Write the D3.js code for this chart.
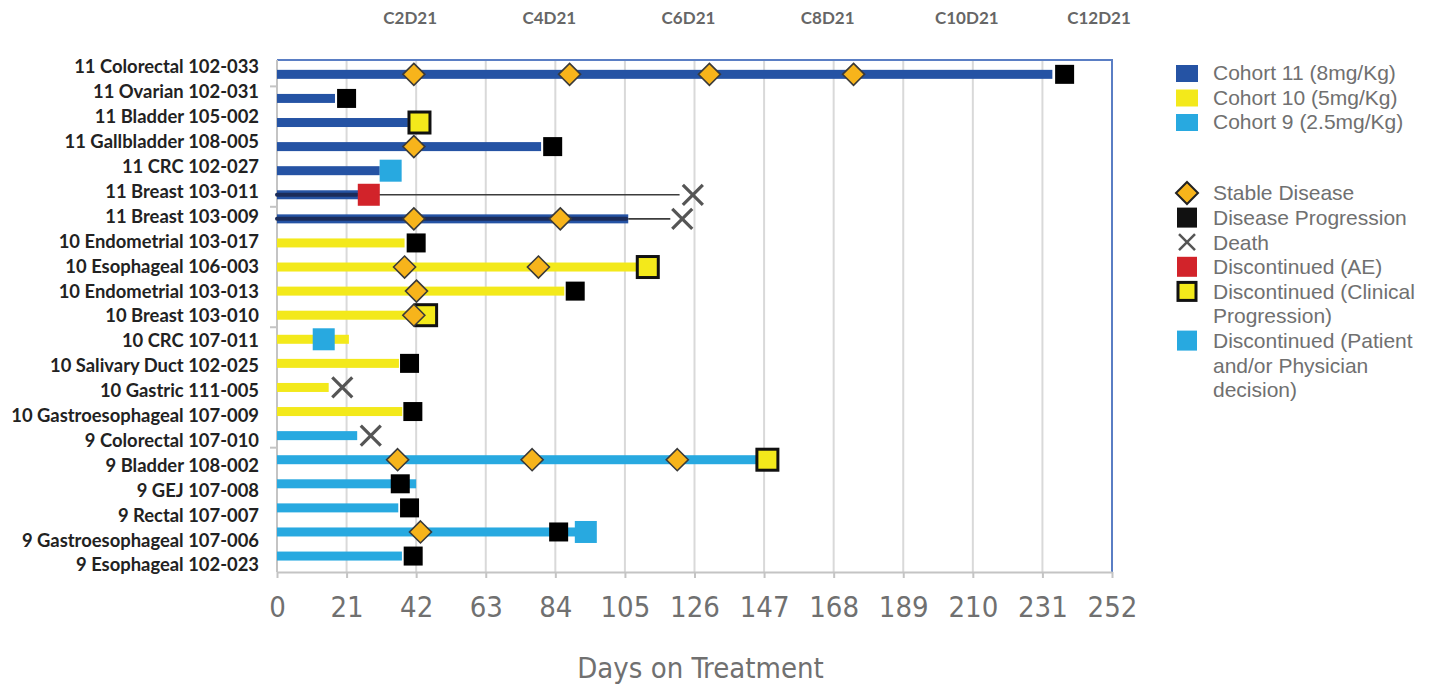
<!DOCTYPE html>
<html>
<head>
<meta charset="utf-8">
<script src="https://cdn.jsdelivr.net/npm/d3@7"></script>
<style>
  body { margin: 0; background: #fff; }
  svg { display: block; }
</style>
</head>
<body>
<svg id="chart" width="1438" height="688"></svg>
<script>
// Patients, top to bottom
const patients = [
  "11 Colorectal 102-033", "11 Ovarian 102-031", "11 Bladder 105-002", "11 Gallbladder 108-005",
  "11 CRC 102-027", "11 Breast 103-011", "11 Breast 103-009", "10 Endometrial 103-017",
  "10 Esophageal 106-003", "10 Endometrial 103-013", "10 Breast 103-010", "10 CRC 107-011",
  "10 Salivary Duct 102-025", "10 Gastric 111-005", "10 Gastroesophageal 107-009",
  "9 Colorectal 107-010", "9 Bladder 108-002", "9 GEJ 107-008", "9 Rectal 107-007",
  "9 Gastroesophageal 107-006", "9 Esophageal 102-023"
];
const cohorts = [11, 11, 11, 11, 11, 11, 11, 10, 10, 10, 10, 10, 10, 10, 10, 9, 9, 9, 9, 9, 9];

// Days on treatment (bar length)
const treatmentDays = [234, 17.5, 39.5, 79.7, 31, 24.7, 106, 38.5, 108.5, 86.7, 42, 21.7,
  36.8, 15.6, 37.8, 24.2, 144.8, 42, 36.6, 90.5, 37.7];
// Follow-up after treatment stop (thin line up to death)
const followUpDays = [null, null, null, null, null, 121.5, 118.7, null, null, null, null, null,
  null, null, null, null, null, null, null, null, null];

// Events (day of assessment)
const stableDisease = [[41.3, 88.3, 130.5, 174], [], [], [41.3], [], [], [41.3, 85.5], [],
  [38.5, 78.9], [42.1], [41.3], [], [], [], [], [], [36.4, 77, 120.8], [], [], [43.3], []];
const progression = [237.7, 21, null, 83.2, null, null, null, 42, null, 90, null, null,
  40, null, 41, null, null, 37.2, 40, 85, 41.1];
const death = [null, null, null, null, null, 125.5, 122.3, null, null, null, null, null,
  null, 19.7, null, 28.3, null, null, null, null, null];
const discAE = [null, null, null, null, null, 27.7, null, null, null, null, null, null,
  null, null, null, null, null, null, null, null, null];
const discClinical = [null, null, 43, null, null, null, null, null, 111.9, null, 45, null,
  null, null, null, null, 148, null, null, null, null];
const discPatient = [null, null, null, null, 34.3, null, null, null, null, null, null, 14.1,
  null, null, null, null, null, null, null, 93.2, null];

const xTicks = [0, 21, 42, 63, 84, 105, 126, 147, 168, 189, 210, 231, 252];
const cycleDays = [42, 84, 126, 168, 210, 252];
const cycleLabels = ["C2D21", "C4D21", "C6D21", "C8D21", "C10D21", "C12D21"];

const cohortLegend = ["Cohort 11 (8mg/Kg)", "Cohort 10 (5mg/Kg)", "Cohort 9 (2.5mg/Kg)"];
const cohortKeys = [11, 10, 9];

// ---- styling ----
const COL = {
  c11: "#2553A4", c10: "#F3E91B", c9: "#28A9E0",
  diamond: "#F7B41B", yellowSq: "#F3E91B", red: "#D2232A", cyan: "#28A9E0",
  grid: "#d9d9d9", axis: "#c4c4c4", frame: "#5A7EC4", text: "#707070"
};
const cohortColor = d3.scaleOrdinal().domain(cohortKeys).range([COL.c11, COL.c10, COL.c9]);
const NARROW = "'Liberation Sans Narrow','DejaVu Sans Condensed',sans-serif";

const plot = { left: 277, right: 1112, top: 60, bottom: 572 };
const svg = d3.select("#chart");

const x = d3.scaleLinear().domain([0, 252]).range([plot.left, plot.right]);
const yBar = d3.scaleBand().domain(patients).range([62.3, 568.1]);
const yLabel = d3.scalePoint().domain(patients).range([67, 565]);
const yc = p => yBar(p) + yBar.bandwidth() / 2;

// gridlines
svg.append("g").selectAll("line")
  .data(xTicks.filter(d => d > 0 && d < 252))
  .join("line")
  .attr("x1", d => x(d)).attr("x2", d => x(d))
  .attr("y1", plot.top).attr("y2", plot.bottom)
  .attr("stroke", COL.grid).attr("stroke-width", 2);

// frame (top & right)
svg.append("path")
  .attr("d", `M${plot.left},${plot.top}H${plot.right}V${plot.bottom}`)
  .attr("fill", "none").attr("stroke", COL.frame).attr("stroke-width", 2);

// left axis line with group ticks
svg.append("line")
  .attr("x1", plot.left).attr("x2", plot.left)
  .attr("y1", plot.top).attr("y2", plot.bottom)
  .attr("stroke", COL.axis).attr("stroke-width", 2);
svg.append("g").selectAll("line")
  .data([1, 6, 11, 16])
  .join("line")
  .attr("x1", plot.left - 7).attr("x2", plot.left)
  .attr("y1", i => yBar(patients[i])).attr("y2", i => yBar(patients[i]))
  .attr("stroke", COL.axis).attr("stroke-width", 2);

// bottom axis
const xAxis = d3.axisBottom(x).tickValues(xTicks).tickSize(6).tickPadding(18).tickSizeOuter(0);
const gx = svg.append("g").attr("transform", `translate(0,${plot.bottom})`).call(xAxis);
gx.select(".domain").attr("stroke", COL.axis).attr("stroke-width", 2);
gx.selectAll(".tick line").attr("stroke", COL.axis).attr("stroke-width", 2);
gx.selectAll(".tick text")
  .attr("fill", COL.text)
  .style("font-family", NARROW)
  .style("font-size", "29px");

svg.append("text")
  .attr("x", (plot.left + plot.right) / 2 + 6).attr("y", 678)
  .attr("text-anchor", "middle")
  .attr("fill", COL.text)
  .style("font-family", NARROW)
  .style("font-size", "29px")
  .text("Days on Treatment");

// cycle labels on top
svg.append("g").selectAll("text")
  .data(cycleDays)
  .join("text")
  .attr("x", (d, i) => x(d) - (i === cycleDays.length - 1 ? 13 : 6))
  .attr("y", 24)
  .attr("text-anchor", "middle")
  .attr("fill", "#666")
  .style("font-family", "Lato, sans-serif")
  .style("font-weight", 700)
  .style("font-size", "17px")
  .text((d, i) => cycleLabels[i]);

// patient labels
svg.append("g").selectAll("text")
  .data(patients)
  .join("text")
  .attr("x", 259)
  .attr("y", d => yLabel(d))
  .attr("dy", "0.35em")
  .attr("text-anchor", "end")
  .attr("fill", "#222")
  .style("font-family", "Lato, sans-serif")
  .style("font-weight", 700)
  .style("font-size", "18.4px")
  .text(d => d);

const rows = patients.map((p, i) => ({ p, i, cohort: cohorts[i] }));

// treatment bars
svg.append("g").selectAll("rect")
  .data(rows)
  .join("rect")
  .attr("x", x(0))
  .attr("y", d => yc(d.p) - 4.5)
  .attr("width", d => x(treatmentDays[d.i]) - x(0))
  .attr("height", 9)
  .attr("fill", d => cohortColor(d.cohort));

// follow-up lines
const fu = rows.filter(d => followUpDays[d.i] != null);
svg.append("g").selectAll("line.core")
  .data(fu)
  .join("line")
  .attr("x1", x(0)).attr("x2", d => x(treatmentDays[d.i]) - 2)
  .attr("y1", d => yc(d.p)).attr("y2", d => yc(d.p))
  .attr("stroke", "#1b2c5a").attr("stroke-width", 4).attr("stroke-linecap", "round");
svg.append("g").selectAll("line.tail")
  .data(fu)
  .join("line")
  .attr("x1", d => x(treatmentDays[d.i])).attr("x2", d => x(followUpDays[d.i]))
  .attr("y1", d => yc(d.p)).attr("y2", d => yc(d.p))
  .attr("stroke", "#3c3c3c").attr("stroke-width", 1.6);

// marker helpers
function squares(arr, size, fill, stroke, sw) {
  svg.append("g").selectAll("rect")
    .data(rows.filter(d => arr[d.i] != null))
    .join("rect")
    .attr("x", d => x(arr[d.i]) - size / 2)
    .attr("y", d => yc(d.p) - size / 2)
    .attr("width", size).attr("height", size)
    .attr("fill", fill)
    .attr("stroke", stroke || "none")
    .attr("stroke-width", sw || 0);
}
const crossPath = s => `M${-s},${-s}L${s},${s}M${-s},${s}L${s},${-s}`;
const diamondPath = s => `M0,${-s}L${s},0L0,${s}L${-s},0Z`;

squares(discPatient, 22, COL.cyan);
squares(discAE, 22, COL.red);
squares(discClinical, 21, COL.yellowSq, "#111", 3);
squares(progression, 19, "#000");

svg.append("g").selectAll("path")
  .data(rows.filter(d => death[d.i] != null))
  .join("path")
  .attr("transform", d => `translate(${x(death[d.i])},${yc(d.p)})`)
  .attr("d", crossPath(10))
  .attr("fill", "none").attr("stroke", "#555").attr("stroke-width", 3.2);

const sd = [];
rows.forEach(d => stableDisease[d.i].forEach(day => sd.push({ p: d.p, day })));
svg.append("g").selectAll("path")
  .data(sd)
  .join("path")
  .attr("transform", d => `translate(${x(d.day)},${yc(d.p)})`)
  .attr("d", diamondPath(11))
  .attr("fill", COL.diamond).attr("stroke", "#3a3a3a").attr("stroke-width", 1.6);

// ---- legend ----
const LF = "'Liberation Sans', Arial, sans-serif";
const LFS = "21px";
const lg = svg.append("g");
const legendX = 1187, textX = 1213;
cohortKeys.forEach((k, i) => {
  const cy = 73 + i * 24.5;
  lg.append("rect").attr("x", legendX - 11).attr("y", cy - 8)
    .attr("width", 22).attr("height", 17).attr("fill", cohortColor(k));
  lg.append("text").attr("x", textX).attr("y", cy).attr("dy", "0.35em")
    .attr("fill", COL.text).style("font-family", LF).style("font-size", LFS)
    .text(cohortLegend[i]);
});

const eventLegend = [
  { lines: ["Stable Disease"], sym: "diamond" },
  { lines: ["Disease Progression"], sym: "prog" },
  { lines: ["Death"], sym: "death" },
  { lines: ["Discontinued (AE)"], sym: "ae" },
  { lines: ["Discontinued (Clinical", "Progression)"], sym: "clin" },
  { lines: ["Discontinued (Patient", "and/or Physician", "decision)"], sym: "pat" }
];
let ly = 193;
eventLegend.forEach(e => {
  const g = lg.append("g").attr("transform", `translate(${legendX},${ly})`);
  if (e.sym === "diamond") g.append("path").attr("d", diamondPath(11)).attr("fill", COL.diamond).attr("stroke", "#222").attr("stroke-width", 2);
  if (e.sym === "prog") g.append("rect").attr("x", -10).attr("y", -10).attr("width", 20).attr("height", 20).attr("fill", "#111");
  if (e.sym === "death") g.append("path").attr("d", crossPath(8)).attr("stroke", "#555").attr("stroke-width", 2.5).attr("fill", "none");
  if (e.sym === "ae") g.append("rect").attr("x", -10).attr("y", -10).attr("width", 20).attr("height", 20).attr("fill", COL.red);
  if (e.sym === "clin") g.append("rect").attr("x", -9).attr("y", -9).attr("width", 18).attr("height", 18).attr("fill", COL.yellowSq).attr("stroke", "#111").attr("stroke-width", 3);
  if (e.sym === "pat") g.append("rect").attr("x", -10).attr("y", -10).attr("width", 20).attr("height", 20).attr("fill", COL.cyan);
  e.lines.forEach((t, j) => {
    lg.append("text").attr("x", textX).attr("y", ly + j * 24.6).attr("dy", "0.35em")
      .attr("fill", COL.text).style("font-family", LF).style("font-size", LFS)
      .text(t);
  });
  ly += e.lines.length * 24.6;
});
</script>
</body>
</html>
